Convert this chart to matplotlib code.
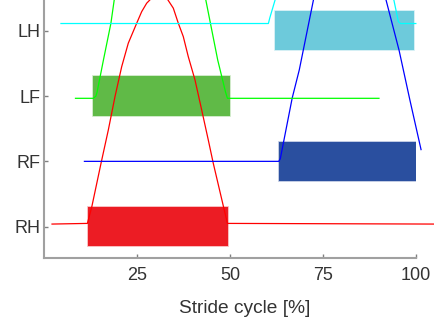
import matplotlib
matplotlib.use("Agg")
import matplotlib.pyplot as plt
from matplotlib.colors import to_rgba

plt.rcParams['font.family'] = ['Liberation Sans', 'DejaVu Sans']

# legs (bottom to top)
legs = ["RH", "RF", "LF", "LH"]
levels = [1, 2, 3, 4]

# stance phase bars [% of stride]
bar_start = [11.8, 63.2, 13.3, 62.0]
bar_end = [49.4, 100.0, 50.0, 99.5]
bar_colors = ["#EC1C24", "#2A4F9F", "#60BA47", "#6DCADB"]

# foot trajectories
rh_x = [2.2, 11.7, 12.9, 15.36, 17.32, 19.11, 20.91, 22.68, 24.94, 26.28, 27.62, 28.97,
        30.52, 32.99, 34.77, 36.11, 37.45, 38.79, 40.59, 42.39, 44.16, 45.50, 49.3, 104.8]
rh_y = [1.04, 1.05, 1.31, 1.971, 2.481, 2.991, 3.450, 3.809, 4.115, 4.292, 4.421, 4.50,
        4.60, 4.50, 4.345, 4.115, 3.910, 3.603, 3.247, 2.787, 2.328, 1.971, 1.05, 1.04]

rf_x = [10.9, 63.1, 63.5, 66.7, 68.6, 72.4, 74.5, 82.1, 89.8, 91.9, 95.4, 98.3, 101.3]
rf_y = [2.00, 2.00, 2.04, 2.97, 3.40, 4.47, 5.08, 5.60, 5.08, 4.47, 3.70, 2.94, 2.18]

lf_x = [8.5, 13.3, 14.0, 14.3, 16.0, 18.0, 18.9, 20.7, 31.2, 41.8, 43.5, 46.7, 48.8, 49.3, 90.0]
lf_y = [2.965, 2.965, 3.00, 3.06, 3.55, 4.11, 4.47, 5.08, 5.60, 5.08, 4.47, 3.55, 3.06, 2.965, 2.965]

lh_x = [4.6, 60.3, 60.7, 62.1, 65.2, 78.0, 92.8, 94.0, 95.2, 95.8, 99.9]
lh_y = [4.11, 4.11, 4.20, 4.47, 5.08, 5.40, 5.08, 4.47, 4.14, 4.11, 4.11]

traj = [(rh_x, rh_y, "#FF0000"), (rf_x, rf_y, "#0000FF"),
        (lf_x, lf_y, "#00FF00"), (lh_x, lh_y, "#00FFFF")]

xticks = [25, 50, 75, 100]

fig = plt.figure(figsize=(4.34, 3.24), dpi=100)
ax = fig.add_axes([0.101, 0.2028, 0.858, 0.7972])

for lvl, s, e, c in zip(levels, bar_start, bar_end, bar_colors):
    ax.barh(lvl, e - s, left=s, height=0.6, color=c,
            edgecolor=to_rgba(c, 0.35), linewidth=1.2, zorder=2)

for xs, ys, c in traj:
    ax.plot(xs, ys, color=c, lw=0.9, clip_on=False, zorder=3)

ax.set_xlim(0, 100)
ax.set_ylim(0.516, 4.47)
ax.set_yticks(levels)
ax.set_yticklabels(legs)
ax.set_xticks(xticks)
ax.set_xticklabels([str(t) for t in xticks])

for side in ("top", "right"):
    ax.spines[side].set_visible(False)
for side in ("left", "bottom"):
    ax.spines[side].set_color("#A0A0A0")
    ax.spines[side].set_linewidth(1.5)

ax.tick_params(axis="both", direction="in", length=3, width=1,
               color="#808080", labelcolor="#333333", labelsize=13)
ax.tick_params(axis="x", pad=6.5)
ax.tick_params(axis="y", pad=2.5)

ax.set_xlabel("Stride cycle [%]", fontsize=13.8, color="#333333")
ax.xaxis.set_label_coords(0.539, -0.163)

fig.savefig("out.png", dpi=100)
